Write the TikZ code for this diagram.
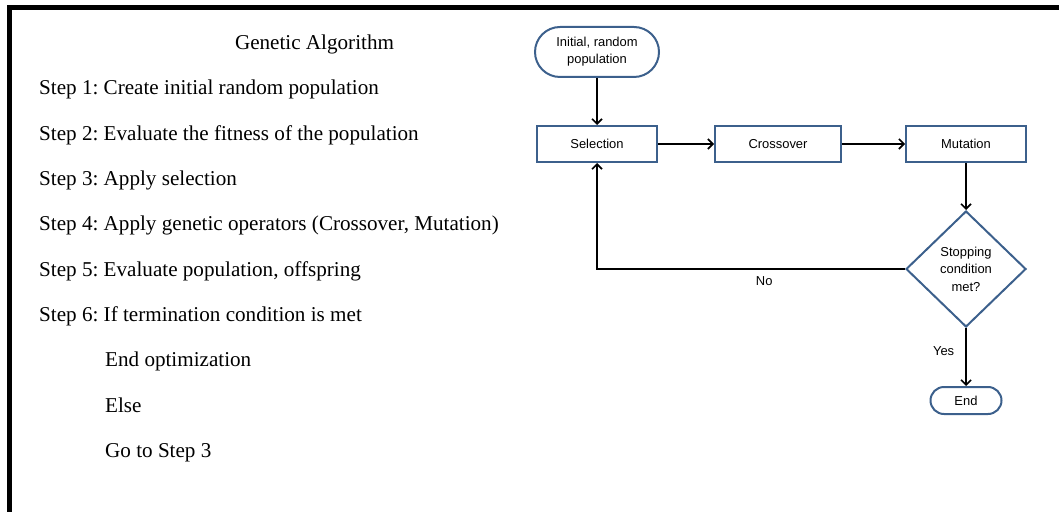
\documentclass[tikz,border=0pt]{standalone}
\usepackage{fontspec}
\setmainfont{Liberation Serif}
\newfontfamily\chartfont{Liberation Sans}
\usetikzlibrary{positioning,shapes.geometric,shapes.misc,arrows.meta}
\frenchspacing
\definecolor{boxclr}{RGB}{60,96,140}
\definecolor{frameclr}{RGB}{0,0,0}
\tikzset{ %
  ,>={Straight Barb[length=5bp,width=10bp]}
  ,stepline/.style={anchor=base west, inner sep=0, font=\fontsize{21.2}{25}\selectfont}
  ,block/.style={draw=boxclr, line width=2bp, rectangle, minimum height=36bp, inner sep=2bp, font=\chartfont\fontsize{13}{17}\selectfont}
  ,terminal/.style={draw=boxclr, line width=2bp, rounded rectangle, align=center, inner sep=2bp, font=\chartfont\fontsize{13}{17}\selectfont}
  ,decision/.style={draw=boxclr, line width=2bp, diamond, minimum width=120bp, minimum height=116bp, inner sep=0, align=center, font=\chartfont\fontsize{13}{17.5}\selectfont}
  ,flow/.style={line width=1.6bp}
  ,flowlbl/.style={inner sep=0, font=\chartfont\fontsize{13}{17}\selectfont}
}

\begin{document}
\begin{tikzpicture}[x=1bp, y=-1bp]
      \useasboundingbox (0,0) rectangle (1059,512);
      % frame
      \draw[frameclr, line width=4.5bp, line join=miter] (9.5,512) -- (9.5,7.5) -- (1059,7.5);

      % left column: the steps
      \node[anchor=base, inner sep=0, font=\fontsize{21.2}{25}\selectfont] (title) at (314.5,50) {Genetic Algorithm};
      \node[stepline] (s1) at (39,95) {Step 1: Create initial random population};
      \node[stepline] (s2) at (39,140.3) {Step 2: Evaluate the fitness of the population};
      \node[stepline] (s3) at (39,185.6) {Step 3: Apply selection};
      \node[stepline] (s4) at (39,231) {Step 4: Apply genetic operators (Crossover, Mutation)};
      \node[stepline] (s5) at (39,276.3) {Step 5: Evaluate population, offspring};
      \node[stepline] (s6) at (39,321.6) {Step 6: If termination condition is met};
      \node[stepline] (s7) at (105,367) {End optimization};
      \node[stepline] (s8) at (105,412.3) {Else};
      \node[stepline] (s9) at (105,457.6) {Go to Step 3};

      % flow chart
      \node[block, minimum width=120bp] (sel) at (597,144) {Selection};
      \node[terminal, minimum width=128bp, minimum height=50bp, above=47bp of sel] (init) {Initial, random\\population};
      \node[block, minimum width=126bp, right=56bp of sel] (cross) {Crossover};
      \node[block, minimum width=120bp, right=63bp of cross] (mut) {Mutation};
      \node[decision, below=47bp of mut] (stop) {\\[-8bp]Stopping\\condition\\met?};
      \node[terminal, minimum width=75bp, minimum height=27bp, below=58bp of stop] (fin) {End};

      \draw[flow,->] (init.south) -- (init.south |- sel.north);
      \draw[flow,->] (sel) -- (cross);
      \draw[flow,->] (cross) -- (mut);
      \draw[flow,->] (mut) -- (stop);
      \draw[flow,->] (stop.west) -- node[flowlbl, pos=0.457, below=7bp] (no) {No} (sel.south |- stop.west) -- (sel.south);
      \draw[flow,->] (stop) -- node[flowlbl, pos=0.4, left=11bp] (yes) {Yes} (fin);
    \end{tikzpicture}
\end{document}
